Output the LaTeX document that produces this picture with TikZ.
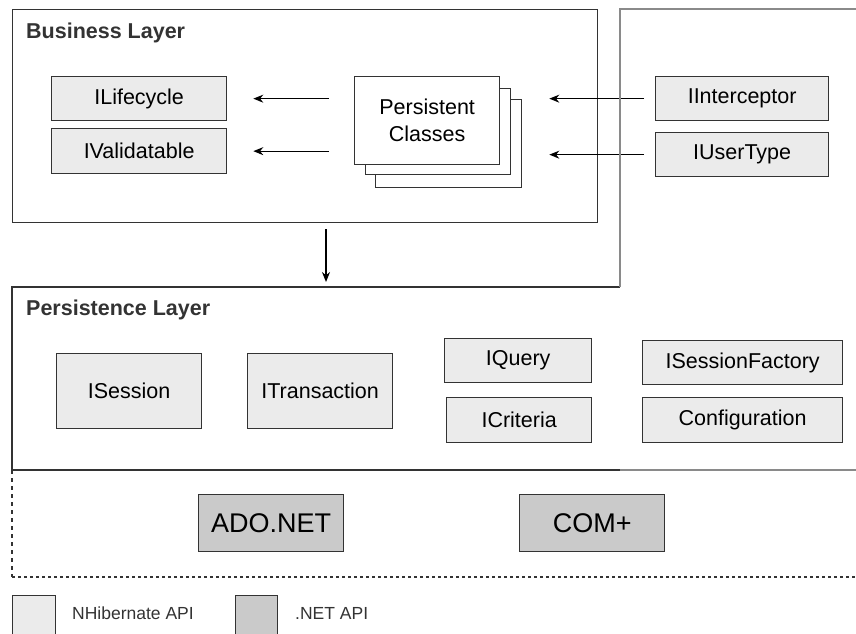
\documentclass[tikz,border=0pt]{standalone}
\usepackage{fontspec}
\setmainfont{Liberation Sans}
\usetikzlibrary{arrows.meta}
\definecolor{lfill}{HTML}{EBEBEB}
\definecolor{dfill}{HTML}{CACACA}
\definecolor{dline}{HTML}{333333}
\definecolor{gline}{HTML}{8A8A8A}
\begin{document}
\begin{tikzpicture}[x=1pt,y=-1pt,
  lbox/.style={draw=dline,fill=lfill,line width=1.3pt,inner sep=0pt,anchor=north west,font=\fontsize{21.5}{25}\selectfont},
  dbox/.style={draw=dline,fill=dfill,line width=1.3pt,inner sep=0pt,anchor=north west,font=\fontsize{27}{31}\selectfont},
  wbox/.style={draw=dline,fill=white,line width=1.3pt,inner sep=0pt,anchor=north west},
  title/.style={anchor=west,inner sep=0pt,font=\fontsize{21.5}{25}\selectfont\bfseries,text=dline},
  legtext/.style={anchor=west,inner sep=0pt,font=\fontsize{17.5}{20}\selectfont,text=dline},
  arr/.style={-{Stealth[length=10pt,width=8pt]},draw=black,line width=1.2pt}]
\useasboundingbox (0,0) rectangle (856,633);
% Business layer
\node[draw=dline,line width=1.3pt,minimum width=585pt,minimum height=213pt,inner sep=0pt,anchor=north west] (bl) at (12,9) {};
\node[title] (blt) at (26,33) {Business Layer};
\node[lbox,minimum width=175pt,minimum height=44pt] (lc) at (51,76) {ILifecycle};
\node[lbox,minimum width=175pt,minimum height=45pt] (va) at (51,128) {IValidatable};
\node[wbox,minimum width=146pt,minimum height=88pt] (pc3) at (375,99) {};
\node[wbox,minimum width=145pt,minimum height=86pt] (pc2) at (365,88) {};
\node[wbox,minimum width=145pt,minimum height=88pt,align=center,font=\fontsize{21.5}{27}\selectfont] (pc1) at (354,76) {Persistent\\Classes};
\node[lbox,minimum width=173pt,minimum height=44pt] (ii) at (655,76) {IInterceptor};
\node[lbox,minimum width=173pt,minimum height=44pt] (ut) at (655,132) {IUserType};
\draw[arr,shorten <=25pt,shorten >=26pt] (pc1.west |- lc.east) -- (lc.east);
\draw[arr,shorten <=25pt,shorten >=26pt] (pc1.west |- va.east) -- (va.east);
\draw[arr,shorten <=11pt,shorten >=27pt] (ii.west) -- (ii.west -| pc3.east);
\draw[arr,shorten <=11pt,shorten >=27pt] (ut.west) -- (ut.west -| pc3.east);
% outlines
\coordinate (ptop) at (326,287);
\draw[dline,line width=1.3pt] (620,287) -- (12,287) -- (12,470) -- (620,470);
\draw[gline,line width=1.3pt] (620,470) -- (856,470);
\draw[gline,line width=1.3pt] (620,287) -- (620,9) -- (856,9);
\draw[arr,shorten <=6pt,shorten >=5pt] (ptop |- bl.south) -- (ptop);
% Persistence layer
\node[title] (plt) at (26,310) {Persistence Layer};
\node[lbox,minimum width=145pt,minimum height=75pt] (se) at (56,353) {ISession};
\node[lbox,minimum width=145pt,minimum height=75pt] (tr) at (247,353) {ITransaction};
\node[lbox,minimum width=147pt,minimum height=44pt] (qu) at (444,338) {IQuery};
\node[lbox,minimum width=145pt,minimum height=45pt] (cr) at (446,397) {ICriteria};
\node[lbox,minimum width=200pt,minimum height=44pt] (sf) at (642,340) {ISessionFactory};
\node[lbox,minimum width=200pt,minimum height=45pt] (co) at (642,397) {Configuration};
% .NET layer
\draw[dline,line width=1.2pt,dash pattern=on 4pt off 4pt] (12,470) -- (12,577);
\draw[dline,line width=1.2pt,dash pattern=on 3pt off 3pt] (12,577) -- (856,577);
\node[dbox,minimum width=145pt,minimum height=57pt] (ado) at (198,494) {ADO.NET};
\node[dbox,minimum width=145pt,minimum height=57pt] (com) at (519,494) {COM+};
% legend
\node[draw=dline,fill=lfill,line width=1.3pt,minimum width=43pt,minimum height=45pt,inner sep=0pt,anchor=north west] (lg1) at (12,595) {};
\node[legtext] (lt1) at (72,613) {NHibernate API};
\node[draw=dline,fill=dfill,line width=1.3pt,minimum width=42pt,minimum height=45pt,inner sep=0pt,anchor=north west] (lg2) at (235,595) {};
\node[legtext] (lt2) at (295,613) {.NET API};
\end{tikzpicture}
\end{document}
